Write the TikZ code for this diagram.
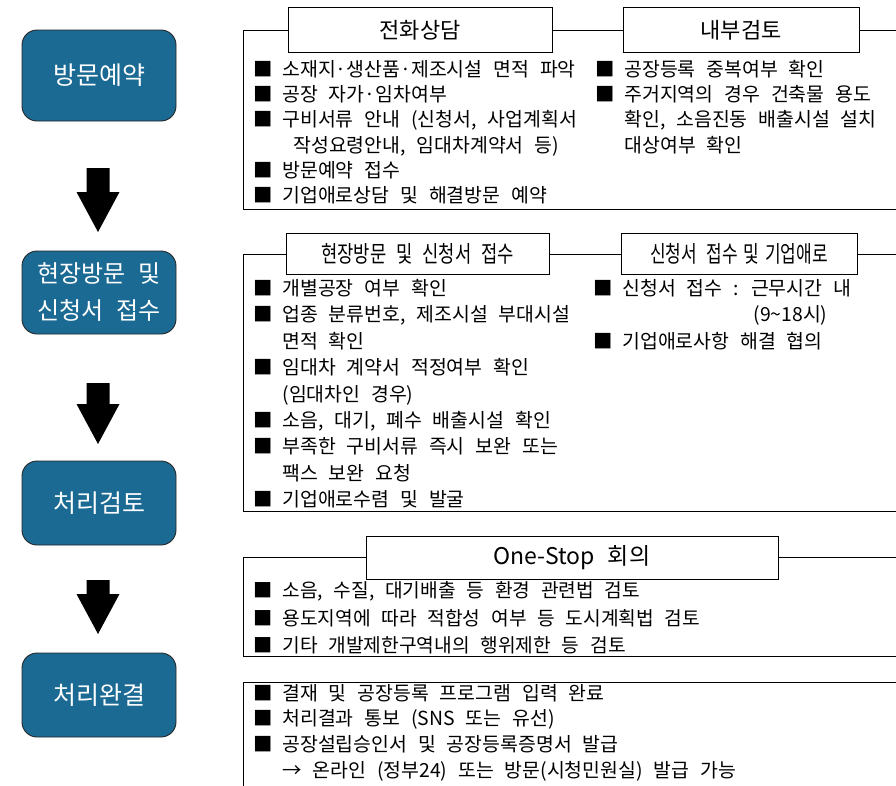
\documentclass[tikz,border=0pt]{standalone}
\usepackage{fontspec}
\setmainfont{Noto Sans CJK KR}[WordSpace=2.5]
\usepackage{tikz}
\definecolor{stageblue}{RGB}{27,106,147}
\newcommand{\bul}{\makebox[29pt][l]{■}}
\newcommand{\ind}{\hspace*{29pt}}
% block arrow: top of shaft, base of head, tip
\newcommand{\blockarrow}[3]{%
  \fill (86.5,#1) -- (109.5,#1) -- (109.5,#2) -- (119.5,#2)
        -- (98,#3) -- (76.5,#2) -- (86.5,#2) -- cycle;}

\begin{document}
\begin{tikzpicture}[x=1pt, y=-1pt, line width=0.9pt,
  stage/.style={draw=black!85, fill=stageblue, rounded corners=15pt, text=white,
    minimum width=154pt, inner sep=0pt, align=center,
    font=\fontsize{25}{37}\selectfont},
  head/.style={draw, fill=white, inner sep=0pt, font=\fontsize{22}{26}\selectfont},
  items/.style={anchor=base west, inner sep=0pt}]
  \useasboundingbox (0,0) rectangle (896,785);
  \clip (0,0) rectangle (896,785);
  % ============= Steps (left column) =============
  \node[stage, minimum height=91pt] (visit) at (99,75.5) {방문예약};
  \node[stage, minimum height=83pt, font=\fontsize{24}{37}\selectfont] (site) at (99,292.5)
    {현장방문 및\\신청서 접수};
  \node[stage, minimum height=84pt] (check) at (99,503) {처리검토};
  \node[stage, minimum height=84pt] (done) at (99,695) {처리완결};
  \blockarrow{168}{192}{232}
  \blockarrow{383}{404}{444}
  \blockarrow{580}{594}{634}
  % ============= Panel 1: visit booking =============
  \draw (243.5,30.5) rectangle (920,209.5);
  \node[head, minimum width=264pt, minimum height=45pt] (phone) at (420,30) {전화상담};
  \node[head, minimum width=236pt, minimum height=45pt] (inner) at (741,30) {내부검토};
  \node[items, font=\fontsize{19.4}{25.2}\selectfont] (phonelist) at (253,76.5)
    {\begin{tabular}[t]{@{}l@{}}
      \bul 소재지·생산품·제조시설 면적 파악\\
      \bul 공장 자가·임차여부\\
      \bul 구비서류 안내 (신청서, 사업계획서\\
      \ind\ 작성요령안내, 임대차계약서 등)\\
      \bul 방문예약 접수\\
      \bul 기업애로상담 및 해결방문 예약
    \end{tabular}};
  \node[items, font=\fontsize{19.4}{25.2}\selectfont] (innerlist) at (595,76.5)
    {\begin{tabular}[t]{@{}l@{}}
      \bul 공장등록 중복여부 확인\\
      \bul 주거지역의 경우 건축물 용도\\
      \ind 확인, 소음진동 배출시설 설치\\
      \ind 대상여부 확인
    \end{tabular}};
  % ============= Panel 2: site visit =============
  \draw (243.5,254) rectangle (920,511);
  \node[head, minimum width=263pt, minimum height=41pt, font=\fontsize{23}{26}\selectfont]
    (visithead) at (417.5,253.5) {\scalebox{0.77}[1]{현장방문 및 신청서 접수}};
  \node[head, minimum width=236pt, minimum height=41pt, font=\fontsize{23}{26}\selectfont]
    (receipt) at (739,253.5) {\scalebox{0.74}[1]{신청서 접수\hspace{-5pt} 및\hspace{-5pt} 기업애로}};
  \node[items, font=\fontsize{19.4}{26.4}\selectfont] (visitlist) at (253,295.5)
    {\begin{tabular}[t]{@{}l@{}}
      \bul 개별공장 여부 확인\\
      \bul 업종 분류번호, 제조시설 부대시설\\
      \ind 면적 확인\\
      \bul 임대차 계약서 적정여부 확인\\
      \ind (임대차인 경우)\\
      \bul 소음, 대기, 폐수 배출시설 확인\\
      \bul 부족한 구비서류 즉시 보완 또는\\
      \ind 팩스 보완 요청\\
      \bul 기업애로수렴 및 발굴
    \end{tabular}};
  \node[items, font=\fontsize{19.4}{26.4}\selectfont] (receiptlist) at (593,295.5)
    {\begin{tabular}[t]{@{}l@{}}
      \bul 신청서 접수 : 근무시간 내\\
      \ind\hspace*{131pt}(9\textasciitilde 18시)\\
      \bul 기업애로사항 해결 협의
    \end{tabular}};
  % ============= Panel 3: one-stop meeting =============
  \draw (243.5,557) rectangle (920,656);
  \node[head, minimum width=412pt, minimum height=43pt, font=\fontsize{23}{26}\selectfont]
    (onestop) at (572,557.5) {One-Stop 회의};
  \node[items, font=\fontsize{19.2}{27.4}\selectfont] (onestoplist) at (253,597.8)
    {\begin{tabular}[t]{@{}l@{}}
      \bul 소음, 수질, 대기배출 등 환경 관련법 검토\\
      \bul 용도지역에 따라 적합성 여부 등 도시계획법 검토\\
      \bul 기타 개발제한구역내의 행위제한 등 검토
    \end{tabular}};
  % ============= Panel 4: completion =============
  \draw (243.5,682) rectangle (920,820);
  \node[items, font=\fontsize{19.4}{25.7}\selectfont] (donelist) at (253,700)
    {\begin{tabular}[t]{@{}l@{}}
      \bul 결재 및 공장등록 프로그램 입력 완료\\
      \bul 처리결과 통보 (SNS 또는 유선)\\
      \bul 공장설립승인서 및 공장등록증명서 발급\\
      \ind → 온라인 (정부24) 또는 방문(시청민원실) 발급 가능
    \end{tabular}};
\end{tikzpicture}
\end{document}
